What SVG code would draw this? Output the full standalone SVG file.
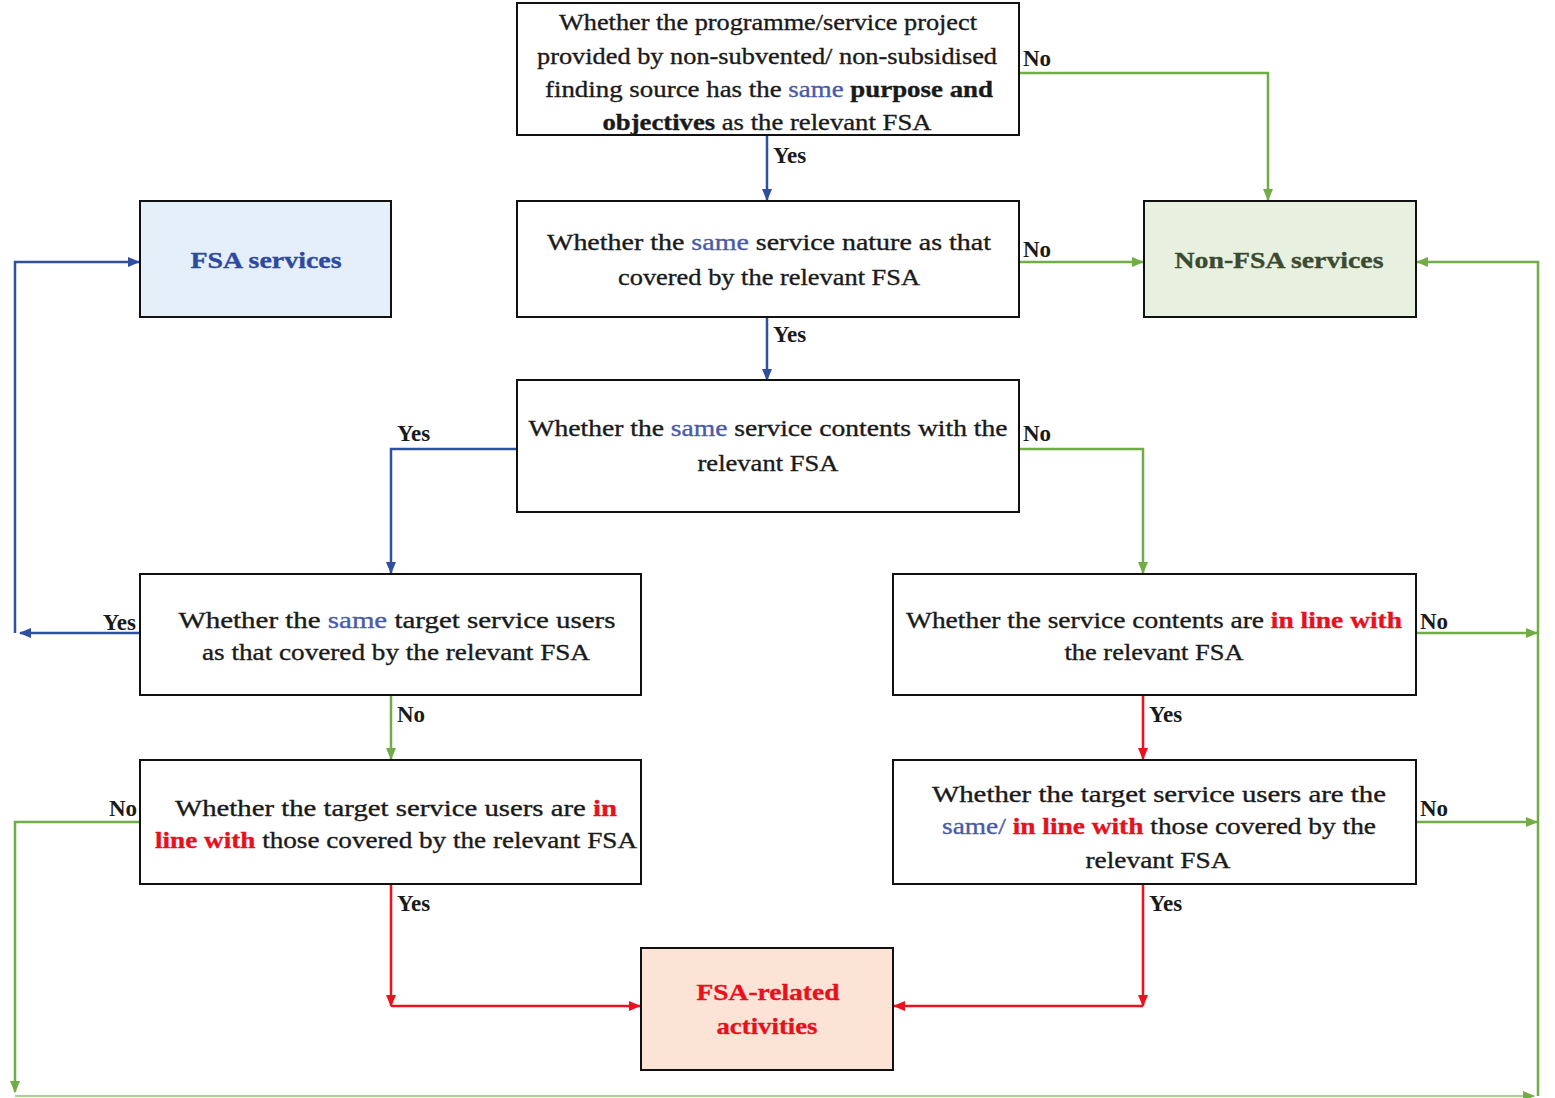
<svg xmlns="http://www.w3.org/2000/svg" width="1555" height="1098" viewBox="0 0 1555 1098">
<defs>
<style>
.box{fill:#ffffff;stroke:#111111;stroke-width:2}
.t{font-family:"Liberation Serif","Times New Roman",serif;font-size:24px;fill:#1a1a1a;stroke:#1a1a1a;stroke-width:0.35;text-anchor:middle}
.b{font-weight:bold}
.s{fill:#4a5aa8;stroke:#4a5aa8}
.r{fill:#e8101e;stroke:#e8101e;font-weight:bold}
.lab{font-family:"Liberation Serif","Times New Roman",serif;font-size:23px;font-weight:bold;fill:#1a1a1a}
.cb{fill:none;stroke:#2f4f9f;stroke-width:2.5}
.cg{fill:none;stroke:#70ad47;stroke-width:2.5}
.cr{fill:none;stroke:#e8131f;stroke-width:2.5}
</style>
<marker id="ab" markerUnits="userSpaceOnUse" markerWidth="12" markerHeight="10" refX="11" refY="5" orient="auto"><path d="M0,0 L12,5 L0,10 Z" fill="#2f4f9f"/></marker>
<marker id="ag" markerUnits="userSpaceOnUse" markerWidth="12" markerHeight="10" refX="11" refY="5" orient="auto"><path d="M0,0 L12,5 L0,10 Z" fill="#70ad47"/></marker>
<marker id="ar" markerUnits="userSpaceOnUse" markerWidth="12" markerHeight="10" refX="11" refY="5" orient="auto"><path d="M0,0 L12,5 L0,10 Z" fill="#e8131f"/></marker>
</defs>
<rect width="1555" height="1098" fill="#ffffff"/>

<g id="connectors">
<path class="cb" d="M767,135 V200" marker-end="url(#ab)"/>
<path class="cg" d="M1019,73 H1268 V200" marker-end="url(#ag)"/>
<path class="cg" d="M1019,262 H1143" marker-end="url(#ag)"/>
<path class="cb" d="M767,317 V380" marker-end="url(#ab)"/>
<path class="cb" d="M517,449 H391 V573" marker-end="url(#ab)"/>
<path class="cg" d="M1019,449 H1143 V573" marker-end="url(#ag)"/>
<path class="cb" d="M140,633 H20" marker-end="url(#ab)"/>
<path class="cb" d="M15,633 V262 H139" marker-end="url(#ab)"/>
<path class="cg" d="M391,695 V759" marker-end="url(#ag)"/>
<path class="cr" d="M1143,695 V759" marker-end="url(#ar)"/>
<path class="cg" d="M1416,633 H1537" marker-end="url(#ag)"/>
<path class="cg" d="M1416,822 H1537" marker-end="url(#ag)"/>
<path class="cg" d="M140,822 H15 V1092" marker-end="url(#ag)"/>
<path class="cr" d="M391,884 V1006" marker-end="url(#ar)"/>
<path class="cr" d="M391,1006 H640" marker-end="url(#ar)"/>
<path class="cr" d="M1143,884 V1006" marker-end="url(#ar)"/>
<path class="cr" d="M1143,1006 H894" marker-end="url(#ar)"/>
<path fill="none" stroke="#a9d18e" stroke-width="2" d="M15,1096 H1534" marker-end="url(#ag)"/>
<path class="cg" d="M1538,1096 V262 H1417" marker-end="url(#ag)"/>
<text class="lab" x="773" y="163">Yes</text>
<text class="lab" x="1023" y="66">No</text>
<text class="lab" x="1023" y="257">No</text>
<text class="lab" x="773" y="342">Yes</text>
<text class="lab" x="397" y="441">Yes</text>
<text class="lab" x="1023" y="441">No</text>
<text class="lab" x="136" y="630" text-anchor="end">Yes</text>
<text class="lab" x="397" y="722">No</text>
<text class="lab" x="1420" y="629">No</text>
<text class="lab" x="1149" y="722">Yes</text>
<text class="lab" x="137" y="816" text-anchor="end">No</text>
<text class="lab" x="1420" y="816">No</text>
<text class="lab" x="397" y="911">Yes</text>
<text class="lab" x="1149" y="911">Yes</text>
</g>

<g id="q1">
<rect class="box" x="517" y="3" width="502" height="132"/>
<text class="t" x="768" y="30" textLength="418" lengthAdjust="spacingAndGlyphs">Whether the programme/service project</text>
<text class="t" x="767" y="64" textLength="460" lengthAdjust="spacingAndGlyphs">provided by non-subvented/ non-subsidised</text>
<text class="t" x="769" y="97" textLength="448" lengthAdjust="spacingAndGlyphs">finding source has the <tspan class="s">same</tspan> <tspan class="b">purpose and</tspan></text>
<text class="t" x="767" y="130" textLength="329" lengthAdjust="spacingAndGlyphs"><tspan class="b">objectives</tspan> as the relevant FSA</text>
</g>

<g id="q2">
<rect class="box" x="517" y="201" width="502" height="116"/>
<text class="t" x="769" y="250" textLength="444" lengthAdjust="spacingAndGlyphs">Whether the <tspan class="s">same</tspan> service nature as that</text>
<text class="t" x="769" y="285" textLength="302" lengthAdjust="spacingAndGlyphs">covered by the relevant FSA</text>
</g>

<g id="fsa-services">
<rect class="box" x="140" y="201" width="251" height="116" style="fill:#e5eff9"/>
<text class="t b" x="266" y="268" textLength="151" lengthAdjust="spacingAndGlyphs" style="fill:#2e4a9e;stroke:#2e4a9e">FSA services</text>
</g>

<g id="non-fsa-services">
<rect class="box" x="1144" y="201" width="272" height="116" style="fill:#e8f1e0"/>
<text class="t b" x="1279" y="268" textLength="209" lengthAdjust="spacingAndGlyphs" style="fill:#3b4a30;stroke:#3b4a30">Non-FSA services</text>
</g>

<g id="q3">
<rect class="box" x="517" y="380" width="502" height="132"/>
<text class="t" x="768" y="436" textLength="479" lengthAdjust="spacingAndGlyphs">Whether the <tspan class="s">same</tspan> service contents with the</text>
<text class="t" x="768" y="471" textLength="141" lengthAdjust="spacingAndGlyphs">relevant FSA</text>
</g>

<g id="q4">
<rect class="box" x="140" y="574" width="501" height="121"/>
<text class="t" x="397" y="628" textLength="437" lengthAdjust="spacingAndGlyphs">Whether the <tspan class="s">same</tspan> target service users</text>
<text class="t" x="396" y="660" textLength="388" lengthAdjust="spacingAndGlyphs">as that covered by the relevant FSA</text>
</g>

<g id="q5">
<rect class="box" x="893" y="574" width="523" height="121"/>
<text class="t" x="1154" y="628" textLength="496" lengthAdjust="spacingAndGlyphs">Whether the service contents are <tspan class="r">in line with</tspan></text>
<text class="t" x="1154" y="660" textLength="179" lengthAdjust="spacingAndGlyphs">the relevant FSA</text>
</g>

<g id="q6">
<rect class="box" x="140" y="760" width="501" height="124"/>
<text class="t" x="396" y="816" textLength="442" lengthAdjust="spacingAndGlyphs">Whether the target service users are <tspan class="r">in</tspan></text>
<text class="t" x="396" y="848" textLength="482" lengthAdjust="spacingAndGlyphs"><tspan class="r">line with</tspan> those covered by the relevant FSA</text>
</g>

<g id="q7">
<rect class="box" x="893" y="760" width="523" height="124"/>
<text class="t" x="1159" y="802" textLength="454" lengthAdjust="spacingAndGlyphs">Whether the target service users are the</text>
<text class="t" x="1159" y="834" textLength="434" lengthAdjust="spacingAndGlyphs"><tspan class="s">same/</tspan> <tspan class="r">in line with</tspan> those covered by the</text>
<text class="t" x="1158" y="868" textLength="145" lengthAdjust="spacingAndGlyphs">relevant FSA</text>
</g>

<g id="fsa-related">
<rect class="box" x="641" y="948" width="252" height="122" style="fill:#fbe4d5"/>
<text class="t b" x="768" y="1000" textLength="143" lengthAdjust="spacingAndGlyphs" style="fill:#e8101e;stroke:#e8101e">FSA-related</text>
<text class="t b" x="767" y="1034" textLength="101" lengthAdjust="spacingAndGlyphs" style="fill:#e8101e;stroke:#e8101e">activities</text>
</g>
</svg>
